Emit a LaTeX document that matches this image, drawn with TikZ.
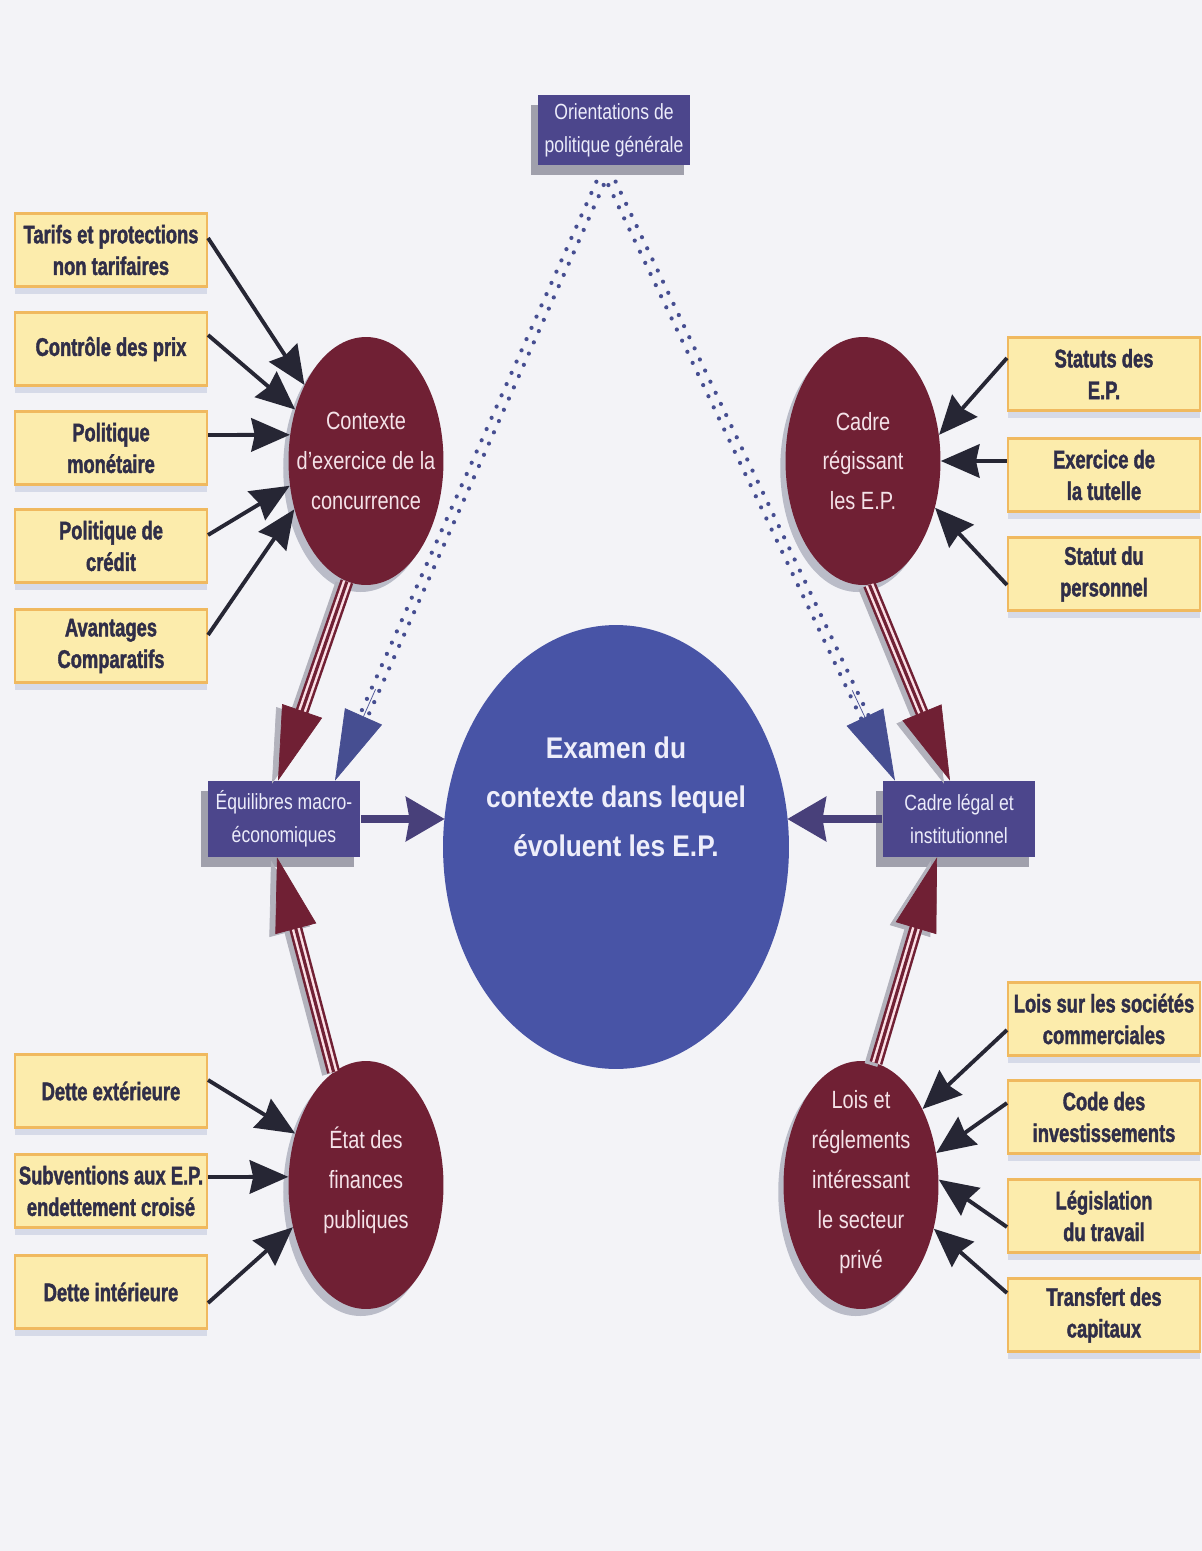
\documentclass[tikz,border=0pt]{standalone}
\usepackage{fontspec}
\usetikzlibrary{shapes.geometric,arrows.meta,calc,shadows}

\newfontfamily\tagfont[FakeStretch=0.72,FakeBold=1.6]{Liberation Sans}
\newfontfamily\softfont[FakeStretch=0.8]{Liberation Sans}
\newfontfamily\headfont[FakeStretch=0.88]{Liberation Sans}

\definecolor{bgpaper}{RGB}{243,243,247}
\definecolor{tagfill}{RGB}{252,236,172}
\definecolor{tagedge}{RGB}{240,185,95}
\definecolor{tagshade}{RGB}{214,218,232}
\definecolor{tagtext}{RGB}{48,46,72}
\definecolor{wine}{RGB}{112,32,52}
\definecolor{winetext}{RGB}{244,226,232}
\definecolor{plum}{RGB}{76,70,140}
\definecolor{plumshade}{RGB}{160,160,172}
\definecolor{boxtext}{RGB}{236,236,250}
\definecolor{hubblue}{RGB}{72,84,166}
\definecolor{hubtext}{RGB}{238,238,250}
\definecolor{inkdark}{RGB}{38,38,52}
\definecolor{arrowblue}{RGB}{72,64,122}
\definecolor{dotblue}{RGB}{70,78,145}
\definecolor{stripe}{RGB}{250,222,228}
\definecolor{linkshade}{RGB}{178,178,188}
\definecolor{discshade}{RGB}{186,188,200}

% striped wine-coloured link with a long head: #1 start, #2 tip
\newcommand\stripedlink[2]{%
  \coordinate (sA) at #1;
  \coordinate (sT) at #2;
  \coordinate (sB) at ($(sT)!1.3cm!(sA)$);
  \coordinate (sH) at ($(sT)!2cm!(sA)$);
  \draw[linkshade, line width=7.5pt] ([shift={(-5,2)}]sA) -- ([shift={(-5,2)}]sB);
  \draw[linkshade, line width=.4pt, -{Triangle[length=42pt,width=24pt]}]
    ([shift={(-6,3)}]sH) -- ([shift={(-6,3)}]sT);
  \draw[wine, line width=7.5pt] (sA) -- (sB);
  \draw[stripe, line width=4.6pt] (sA) -- (sB);
  \draw[wine, line width=1.8pt] (sA) -- (sB);
  \draw[wine, line width=.4pt, -{Triangle[length=42pt,width=24pt]}] (sH) -- (sT);
}

% double row of dots ending in a long blue head: #1 start, #2 tip
\newcommand\dottedlink[2]{%
  \coordinate (dA) at #1;
  \coordinate (dT) at #2;
  \coordinate (dB) at ($(dT)!1.3cm!(dA)$);
  \coordinate (dH) at ($(dT)!2cm!(dA)$);
  \draw[dotrow] ($(dA)!0.08cm!90:(dB)$) -- ($(dB)!0.08cm!-90:(dA)$);
  \draw[dotrow] ($(dA)!0.08cm!-90:(dB)$) -- ($(dB)!0.08cm!90:(dA)$);
  \draw[dotblue, line width=.4pt, -{Triangle[length=40pt,width=23pt]}] (dH) -- (dT);
}

\begin{document}
\begin{tikzpicture}[x=0.02cm, y=-0.02cm,
  tagbox/.style={rectangle, draw=tagedge, line width=1.2pt, fill=tagfill,
    minimum width=3.84cm, minimum height=1.46cm, inner sep=0pt, align=center,
    text=tagtext, font=\tagfont\bfseries\fontsize{14.5}{18}\selectfont,
    drop shadow={shadow xshift=0pt, shadow yshift=-4.5pt, fill=tagshade, opacity=1}},
  disc/.style={ellipse, fill=wine, minimum width=3.1cm, minimum height=4.96cm,
    inner sep=0pt,
    drop shadow={shadow xshift=-3pt, shadow yshift=-4pt, fill=discshade, opacity=1}},
  disctext/.style={align=center, text=winetext, inner sep=0pt,
    font=\softfont\fontsize{14.2}{22.7}\selectfont},
  plumbox/.style={rectangle, fill=plum, minimum width=3.06cm, minimum height=1.52cm,
    inner sep=0pt, align=center, text=boxtext,
    font=\softfont\fontsize{12.5}{18.7}\selectfont,
    drop shadow={shadow xshift=-3.5pt, shadow yshift=-5.5pt, fill=plumshade, opacity=1}},
  hub/.style={ellipse, fill=hubblue, minimum width=6.92cm, minimum height=8.88cm, inner sep=0pt},
  hubcaption/.style={align=center, text=hubtext, inner sep=0pt,
    font=\headfont\bfseries\fontsize{17}{27.8}\selectfont},
  feed/.style={draw=inkdark, line width=2.2pt, -{Stealth[length=22pt,width=19pt,inset=2pt]}},
  push/.style={draw=arrowblue, line width=4pt, -{Stealth[length=22pt,width=25pt,inset=2pt]}},
  dotrow/.style={draw=dotblue, line width=2.4pt, line cap=round, dash pattern=on 0pt off 7pt}
]
\fill[bgpaper] (0,0) rectangle (1202,1551);
\useasboundingbox (0,0) rectangle (1202,1551);

% central question
\node[hub] (hub) at (616,847) {};
\node[hubcaption] (hubcap) at ($(hub.center)+(0,-50)$)
  {Examen du\\contexte dans lequel\\évoluent les E.P.};

% policy and intermediate boxes
\node[plumbox, minimum height=1.4cm] (orient) at (614,130) {Orientations de\\politique générale};
\node[plumbox] (macro) at (284,819) {Équilibres macro-\\économiques};
\node[plumbox] (legal) at (959,819) {Cadre légal et\\institutionnel};

% four context discs and their captions
\node[disc] (ctx) at (366,461) {};
\node[disc] (reg) at (863,461) {};
\node[disc] (fin) at (366,1185) {};
\node[disc] (lois) at (861,1185) {};
\node[disctext] (ctxcap) at (ctx.center) {Contexte\\d’exercice de la\\concurrence};
\node[disctext] (regcap) at (reg.center) {Cadre\\régissant\\les E.P.};
\node[disctext] (fincap) at ($(fin.center)+(0,-5)$) {État des\\finances\\publiques};
\node[disctext] (loiscap) at ($(lois.center)+(0,-3)$) {Lois et\\réglements\\intéressant\\le secteur\\privé};

% factor boxes, left column
\node[tagbox] (t1) at (111,250) {Tarifs et protections\\non tarifaires};
\node[tagbox] (t2) at (111,349) {Contrôle des prix};
\node[tagbox] (t3) at (111,448) {Politique\\monétaire};
\node[tagbox] (t4) at (111,546) {Politique de\\crédit};
\node[tagbox] (t5) at (111,646) {Avantages\\Comparatifs};
\node[tagbox] (d1) at (111,1091) {Dette extérieure};
\node[tagbox] (d2) at (111,1191) {Subventions aux E.P.\\endettement croisé};
\node[tagbox] (d3) at (111,1292) {Dette intérieure};

% factor boxes, right column
\node[tagbox] (r1) at (1104,374) {Statuts des\\E.P.};
\node[tagbox] (r2) at (1104,475) {Exercice de\\la tutelle};
\node[tagbox] (r3) at (1104,574) {Statut du\\personnel};
\node[tagbox] (l1) at (1104,1019) {Lois sur les sociétés\\commerciales};
\node[tagbox] (l2) at (1104,1117) {Code des\\investissements};
\node[tagbox] (l3) at (1104,1216) {Législation\\du travail};
\node[tagbox] (l4) at (1104,1315) {Transfert des\\capitaux};

% factors feeding the discs
\draw[feed] ($(t1.east)+(0,-12)$) -- (ctx.129);
\draw[feed] ($(t2.east)+(0,-14)$) -- (ctx.144);
\draw[feed] ($(t3.east)+(0,-13)$) -- (ctx.161);
\draw[feed] ($(t4.east)+(0,-11)$) -- (ctx.198);
\draw[feed] ($(t5.east)+(0,-11)$) -- (ctx.214);
\draw[feed] ($(d1.east)+(0,-11)$) -- (fin.144);
\draw[feed] ($(d2.east)+(0,-14)$) -- (fin.174);
\draw[feed] ($(d3.east)+(0,11)$) -- (fin.210);
\draw[feed] ($(r1.west)+(0,-16)$) -- (reg.19);
\draw[feed] ($(r2.west)+(0,-14)$) -- (reg.0);
\draw[feed] ($(r3.west)+(0,11)$) -- (reg.-33);
\draw[feed] ($(l1.west)+(0,11)$) -- (lois.51);
\draw[feed] ($(l2.west)+(0,-14)$) -- (lois.23);
\draw[feed] ($(l3.west)+(0,11)$) -- (lois.4);
\draw[feed] ($(l4.west)+(0,-22)$) -- (lois.-31);

% discs into the intermediate boxes
\stripedlink{(ctx.261)}{($(macro.north)+(-6,0)$)}
\stripedlink{(fin.106)}{($(macro.south)+(-7,0)$)}
\stripedlink{(reg.273)}{($(legal.north)+(-9,0)$)}
\stripedlink{(lois.83)}{($(legal.south)+(-22,0)$)}

% general policy orientations
\dottedlink{($(orient.south)+(-14,18)$)}{($(macro.north)+(51,0)$)}
\dottedlink{($(orient.south)+(-2,18)$)}{($(legal.north)+(-64,0)$)}

% intermediate boxes into the central question, kept level
\draw[push] (macro.east) -- ($(macro.east -| hub.west)+(2,0)$);
\draw[push] (legal.west) -- ($(legal.west -| hub.east)+(-2,0)$);
\end{tikzpicture}
\end{document}
